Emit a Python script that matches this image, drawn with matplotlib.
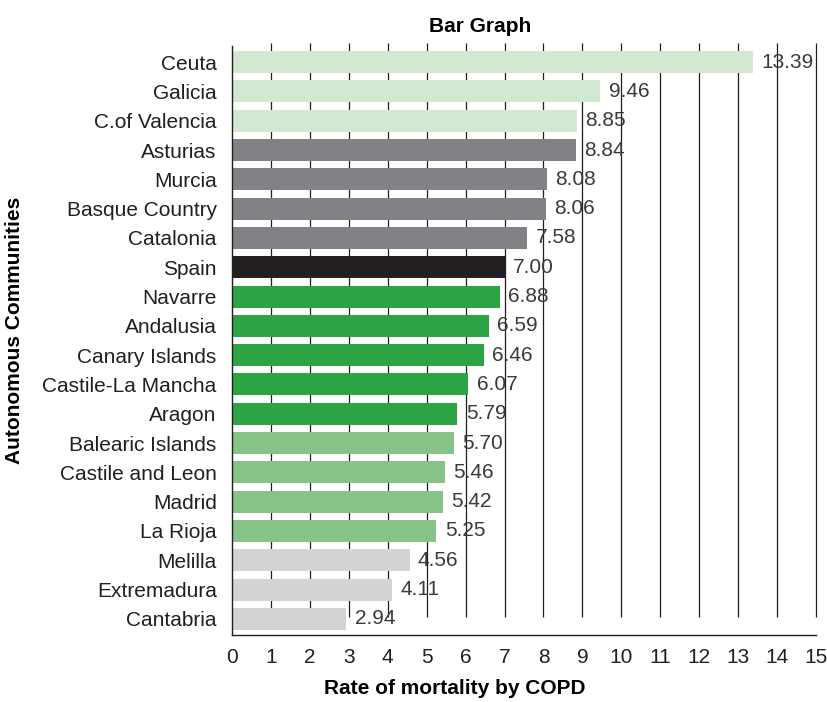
# -*- coding: utf-8 -*-

# Mortalidade por DPOC por comunidade autonoma - grafico de barras horizontais

import matplotlib.pyplot as plt

plt.rcParams['font.family'] = ['Liberation Sans', 'DejaVu Sans']

# dados
comunidades = ["Ceuta", "Galicia", "C.of Valencia", "Asturias", "Murcia", "Basque Country",
               "Catalonia", "Spain", "Navarre", "Andalusia", "Canary Islands", "Castile-La Mancha",
               "Aragon", "Balearic Islands", "Castile and Leon", "Madrid", "La Rioja", "Melilla",
               "Extremadura", "Cantabria"]

taxa = [13.39, 9.46, 8.85, 8.84, 8.08, 8.06, 7.58, 7.00, 6.88, 6.59, 6.46, 6.07,
        5.79, 5.70, 5.46, 5.42, 5.25, 4.56, 4.11, 2.94]

grupo = ["verde_claro"] * 3 + ["cinza"] * 4 + ["preto"] + ["verde"] * 5 + \
        ["verde_medio"] * 4 + ["cinza_claro"] * 3

cores = {"verde_claro": "#d3e8d3", "cinza": "#808285", "preto": "#231f20",
         "verde": "#2ca443", "verde_medio": "#87c387", "cinza_claro": "#d1d3d4"}

xticks = list(range(0, 16))

# configuracao do grafico
fig = plt.figure(figsize=(8.28, 7.02), dpi=100)
ax = fig.add_axes([0.2802, 0.0954, 0.7053, 0.8391])

pos = list(range(len(comunidades)))

# linhas verticais atras das barras
ax.vlines(xticks[1:], -0.65, 18.95, color='#231f20', linewidth=0.9, zorder=1, clip_on=False)

ax.barh(pos, taxa, height=0.75, color=[cores[g] for g in grupo], zorder=2)

# valores ao lado das barras
for p, v in zip(pos, taxa):
    ax.annotate(f"{v:.2f}", (v, p), xytext=(6, 0), textcoords='offset points',
                ha='left', va='center', fontsize=15, color='#3a3a3a', zorder=3)

ax.set_xlim(0, 15)
ax.set_ylim(19.55, -0.55)
ax.set_xticks(xticks)
ax.set_yticks(pos)
ax.set_yticklabels(comunidades)

ax.tick_params(axis='y', length=0, pad=11, labelsize=15, labelcolor='#231f20')
ax.tick_params(axis='x', length=0, pad=9, labelsize=15, labelcolor='#231f20')

for lado in ['top', 'right']:
    ax.spines[lado].set_visible(False)
for lado in ['left', 'bottom']:
    ax.spines[lado].set_color('#231f20')
    ax.spines[lado].set_linewidth(1.0)

ax.set_title('Bar Graph', fontsize=15, fontweight='bold', x=0.425, pad=10)
ax.set_xlabel('Rate of mortality by COPD', fontsize=15, fontweight='bold')
ax.xaxis.set_label_coords(0.382, -0.075)
ax.set_ylabel('Autonomous Communities', fontsize=15, fontweight='bold')
ax.yaxis.set_label_coords(-0.357, 0.518)

fig.savefig('out.png', dpi=100)
